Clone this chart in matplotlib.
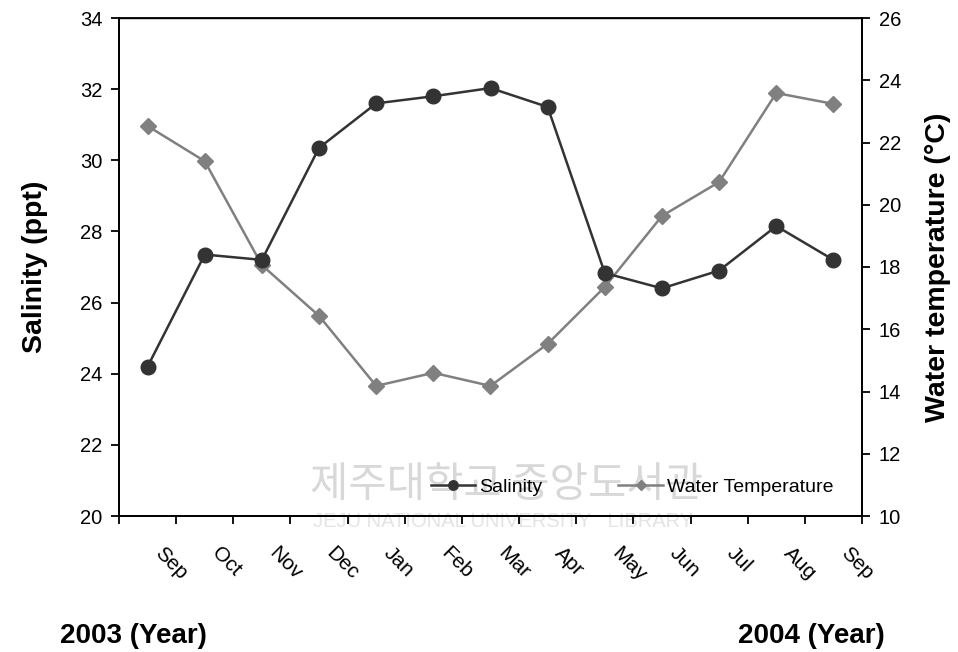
import matplotlib
matplotlib.use("Agg")
import matplotlib.pyplot as plt
import numpy as np

plt.rcParams.update({
    "font.family": ["Liberation Sans", "DejaVu Sans"],
    "font.size": 14,
})

MONTHS = ["Sep", "Oct", "Nov", "Dec", "Jan", "Feb", "Mar",
          "Apr", "May", "Jun", "Jul", "Aug", "Sep"]
SALINITY = [24.2, 27.35, 27.2, 30.35, 31.6, 31.8, 32.03,
            31.5, 26.83, 26.4, 26.9, 28.15, 27.2]
WATER_TEMP = [22.53, 21.4, 18.06, 16.43, 14.18, 14.6, 14.18,
              15.53, 17.36, 19.64, 20.73, 23.59, 23.24]

C_SAL = "#333333"
C_TMP = "#808080"

fig = plt.figure(figsize=(9.58, 6.52), dpi=100)
ax = fig.add_axes([119/958, 1 - 516/652, (862-119)/958, (516-18)/652])
ax2 = ax.twinx()

# faint library watermark (behind everything)
ax2.text(0.257, 0.062, "제주대학교 중앙도서관", transform=ax.transAxes,
         fontsize=30, color="#d8d8d8", family=["Noto Sans CJK KR"],
         ha="left", va="center", zorder=0)
ax2.text(0.261, -0.012, "JEJU NATIONAL UNIVERSITY   LIBRARY",
         transform=ax.transAxes, fontsize=14.5, color="#e4e4e4",
         ha="left", va="center", zorder=0, clip_on=False)

x = np.arange(len(MONTHS)) + 0.5
l1, = ax.plot(x, SALINITY, color=C_SAL, lw=1.8, marker="o", ms=10.5,
              label="Salinity", zorder=3)
l2, = ax2.plot(x, WATER_TEMP, color=C_TMP, lw=1.8, marker="D", ms=8.5,
               label="Water Temperature", zorder=2)
ax.set_zorder(ax2.get_zorder() + 1)
ax.patch.set_visible(False)

ax.set_xlim(0, len(MONTHS))
ax.set_ylim(20, 34)
ax2.set_ylim(10, 26)
ax.set_yticks(np.arange(20, 35, 2))
ax2.set_yticks(np.arange(10, 27, 2))
ax.set_xticks(np.arange(len(MONTHS) + 1))
ax.set_xticklabels([])
for xi, m in zip(x, MONTHS):
    ax.text(xi + 0.3, -0.055, m, transform=ax.get_xaxis_transform(),
            rotation=-45, ha="left", va="top", rotation_mode="anchor",
            fontsize=15)

for a in (ax, ax2):
    a.tick_params(direction="out", length=6, width=1.3, labelsize=14.5,
                  pad=6)
    for s in a.spines.values():
        s.set_linewidth(1.3)
ax.spines["top"].set_linewidth(1.0)

ax.set_ylabel("Salinity (ppt)", fontsize=20.5, fontweight="bold", labelpad=23)
ax2.set_ylabel("Water temperature (°C)", fontsize=20.5, fontweight="bold",
               labelpad=17)

ax.legend(handles=[l1, l2], loc="lower right", ncol=2, frameon=False,
          fontsize=14, bbox_to_anchor=(0.985, 0.005), handlelength=2.3,
          handletextpad=0.2, columnspacing=3.9, markerscale=0.65)

fig.text(60/958, 1 - 636/652, "2003 (Year)", fontsize=20, fontweight="bold",
         ha="left", va="center")
fig.text(885/958, 1 - 636/652, "2004 (Year)", fontsize=20, fontweight="bold",
         ha="right", va="center")

fig.savefig("out.png", dpi=100, facecolor="white")
plt.close(fig)
